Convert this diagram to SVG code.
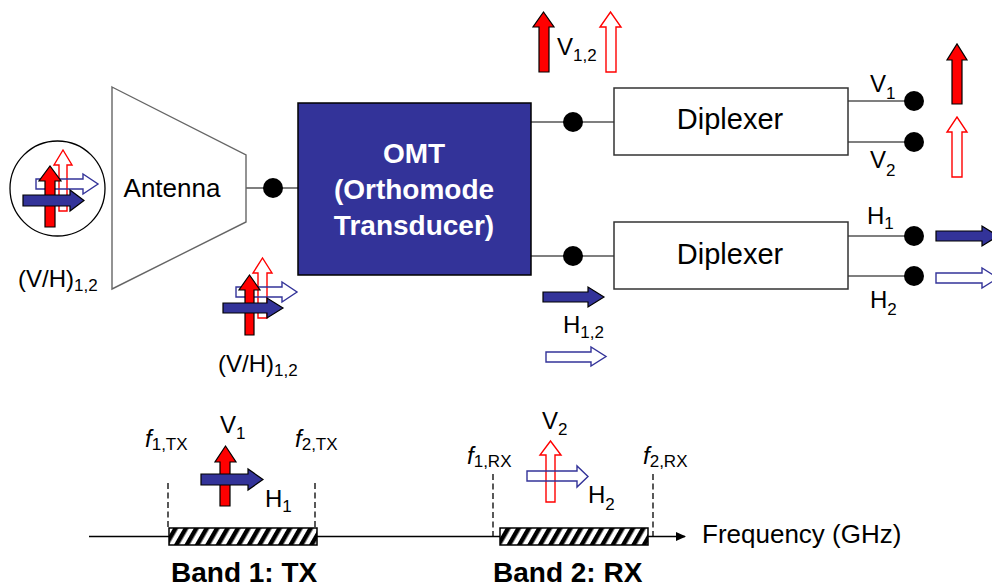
<svg xmlns="http://www.w3.org/2000/svg" width="992" height="588" viewBox="0 0 992 588">
<style>
text{font-family:"Liberation Sans",Arial,sans-serif;fill:#000}
.lbl{font-size:24px}
.sub{font-size:17px}
.big{font-size:26px}
.dip{font-size:29px;text-anchor:middle}
.omt{font-size:28px;font-weight:bold;fill:#fff;text-anchor:middle}
.band{font-size:28px;font-weight:bold}
.fr{fill:#ff0000;stroke:#000;stroke-width:1.2;stroke-linejoin:miter}
.fb{fill:#333399;stroke:#000;stroke-width:1.2}
.orr{fill:none;stroke:#ff0000;stroke-width:1.4}
.ob{fill:none;stroke:#333399;stroke-width:1.4}
.wire{stroke:#555;stroke-width:1.5;fill:none}
.dot{fill:#000}
.dash{stroke:#000;stroke-width:1.3;stroke-dasharray:6 3.5}
</style>
<defs>
<pattern id="hatch" patternUnits="userSpaceOnUse" width="9" height="9" patternTransform="rotate(30)">
<rect width="9" height="9" fill="#fff"/>
<rect width="4.5" height="9" fill="#000"/>
</pattern>
<marker id="ax" markerWidth="10" markerHeight="10" refX="9" refY="5" orient="auto" markerUnits="userSpaceOnUse">
<path d="M0,0.5 L10,5 L0,9.5 z" fill="#000"/>
</marker>
</defs>

<g id="connectors">
<line class="wire" x1="246" y1="188" x2="298" y2="188"/>
<line class="wire" x1="531" y1="122" x2="614" y2="122"/>
<line class="wire" x1="531" y1="256" x2="614" y2="256"/>
<line class="wire" x1="848" y1="101" x2="914" y2="101"/>
<line class="wire" x1="848" y1="142" x2="914" y2="142"/>
<line class="wire" x1="848" y1="236" x2="914" y2="236"/>
<line class="wire" x1="848" y1="276" x2="914" y2="276"/>
<circle class="dot" cx="273" cy="188" r="10"/>
<circle class="dot" cx="573" cy="122" r="10"/>
<circle class="dot" cx="573" cy="256" r="10"/>
<circle class="dot" cx="914" cy="101" r="10"/>
<circle class="dot" cx="914" cy="142" r="10"/>
<circle class="dot" cx="914" cy="236" r="10"/>
<circle class="dot" cx="914" cy="276" r="10"/>
</g>

<g id="wave-in">
<circle cx="57.5" cy="188.5" r="47.5" fill="#fff" stroke="#000" stroke-width="1.3"/>
<polygon class="orr" points="59,211 59,165 54,165 63,150 72,165 67,165 67,211"/>
<polygon class="ob" points="36,179 83,179 83,174 98,184 83,194 83,189 36,189"/>
<polygon class="fr" points="45,227 45,181 39,181 50,166 61,181 55,181 55,227"/>
<polygon class="fb" points="23,195 70,195 70,190 84,200.5 70,211 70,206 23,206"/>
<text class="lbl" x="18" y="287">(V/H)<tspan class="sub" dy="4">1,2</tspan></text>
</g>

<g id="antenna">
<polygon points="112,87 246,155 246,222 112,289" fill="#fff" stroke="#666" stroke-width="1.4"/>
<text class="big" x="172" y="197" text-anchor="middle">Antenna</text>
</g>

<g id="wave-omt">
<polygon class="orr" points="258,318 258,273 253,273 262.5,258 272,273 267,273 267,318"/>
<polygon class="ob" points="236,287 282,287 282,282 297,292 282,302 282,297 236,297"/>
<polygon class="fr" points="245,335 245,290 239,290 249.5,275 260,290 254,290 254,335"/>
<polygon class="fb" points="223,303 267,303 267,298 283,308 267,318 267,313 223,313"/>
<text class="lbl" x="218" y="372">(V/H)<tspan class="sub" dy="4">1,2</tspan></text>
</g>

<g id="omt">
<rect x="298" y="103" width="233" height="172" fill="#333399" stroke="#000" stroke-width="1.5"/>
<text class="omt" x="414" y="163">OMT</text>
<text class="omt" x="414" y="199">(Orthomode</text>
<text class="omt" x="414" y="235">Transducer)</text>
</g>

<g id="v12">
<polygon class="fr" points="539,72 539,27 533,27 543.5,12 554,27 549,27 549,72"/>
<polygon class="orr" points="606,72 606,27 600,27 610.5,12 621,27 616,27 616,72"/>
<text class="lbl" x="557" y="55">V<tspan class="sub" dy="6">1,2</tspan></text>
</g>

<g id="h12">
<polygon class="fb" points="543,292 588,292 588,287 604,297 588,307 588,302 543,302"/>
<text class="lbl" x="563" y="333">H<tspan class="sub" dy="5">1,2</tspan></text>
<polygon class="ob" points="546,352 591,352 591,347 606,356.5 591,366 591,362 546,362"/>
</g>

<g id="diplexer1">
<rect x="614" y="88" width="234" height="67" fill="#fff" stroke="#333" stroke-width="1.5"/>
<text class="dip" x="730" y="129">Diplexer</text>
</g>

<g id="diplexer2">
<rect x="614" y="222" width="234" height="67" fill="#fff" stroke="#333" stroke-width="1.5"/>
<text class="dip" x="730" y="264">Diplexer</text>
</g>

<g id="outputs">
<text class="lbl" x="870" y="92">V<tspan class="sub" dy="7">1</tspan></text>
<text class="lbl" x="870" y="168">V<tspan class="sub" dy="8">2</tspan></text>
<text class="lbl" x="867" y="224">H<tspan class="sub" dy="5">1</tspan></text>
<text class="lbl" x="870" y="308">H<tspan class="sub" dy="7">2</tspan></text>
<polygon class="fr" points="952,104 952,60 947,60 957,44 967,60 962,60 962,104"/>
<polygon class="orr" points="952,177 952,132 947,132 957,117 967,132 962,132 962,177"/>
<polygon class="fb" points="936,231 982,231 982,226 998,236 982,246 982,241 936,241"/>
<polygon class="ob" points="936,273 982,273 982,268 998,278 982,288 982,283 936,283"/>
</g>

<g id="spectrum">
<line x1="89" y1="536.5" x2="685" y2="536.5" stroke="#000" stroke-width="1.5" marker-end="url(#ax)"/>
<line class="dash" x1="168" y1="483" x2="168" y2="528"/>
<line class="dash" x1="315" y1="483" x2="315" y2="528"/>
<line class="dash" x1="493" y1="474" x2="493" y2="536"/>
<line class="dash" x1="653" y1="474" x2="653" y2="536"/>
<rect x="169" y="528" width="148" height="17" fill="url(#hatch)" stroke="#000" stroke-width="1.5"/>
<rect x="500" y="528" width="148" height="17" fill="url(#hatch)" stroke="#000" stroke-width="1.5"/>
<text class="big" x="702" y="543">Frequency (GHz)</text>
</g>

<g id="band1">
<text class="lbl" x="145" y="447"><tspan font-style="italic">f</tspan><tspan class="sub" dy="3">1,TX</tspan></text>
<text class="lbl" x="295" y="447"><tspan font-style="italic">f</tspan><tspan class="sub" dy="3">2,TX</tspan></text>
<text class="lbl" x="220" y="433">V<tspan class="sub" dy="6">1</tspan></text>
<polygon class="fr" points="220,506 220,462 215,462 225.5,446 236,462 230,462 230,506"/>
<polygon class="fb" points="201,474 248,474 248,469 263,479.5 248,490 248,485 201,485"/>
<text class="lbl" x="265" y="507">H<tspan class="sub" dy="5">1</tspan></text>
<text class="band" x="171" y="582">Band 1: TX</text>
</g>

<g id="band2">
<text class="lbl" x="467" y="464"><tspan font-style="italic">f</tspan><tspan class="sub" dy="3">1,RX</tspan></text>
<text class="lbl" x="643" y="464"><tspan font-style="italic">f</tspan><tspan class="sub" dy="3">2,RX</tspan></text>
<text class="lbl" x="542" y="429">V<tspan class="sub" dy="6">2</tspan></text>
<polygon class="orr" points="546,502 546,455 540,455 550.5,441 561,455 555,455 555,502"/>
<polygon class="ob" points="527,471 577,471 577,466 588,476.5 577,487 577,481 527,481"/>
<text class="lbl" x="588" y="503">H<tspan class="sub" dy="7">2</tspan></text>
<text class="band" x="493" y="582">Band 2: RX</text>
</g>
</svg>
